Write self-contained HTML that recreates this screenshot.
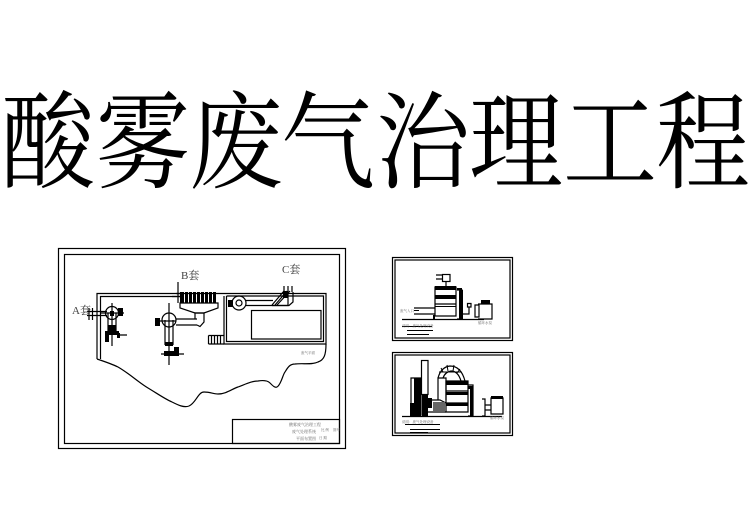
<!DOCTYPE html>
<html><head><meta charset="utf-8"><style>
html,body{margin:0;padding:0;background:#fff;width:749px;height:530px;overflow:hidden}
svg{display:block}
text{font-family:"Liberation Serif","Noto Serif CJK SC",serif;fill:#000}
.t{font-family:"Noto Serif CJK SC",serif;font-size:94px;font-weight:400}
.l{fill:#444;font-size:11px}
.s{fill:#666;font-size:3.5px}
</style></head><body>
<svg width="749" height="530" viewBox="0 0 749 530" xmlns="http://www.w3.org/2000/svg">
<g transform="translate(0,180) scale(1,1.13)" class="t">
<text class="t" x="1" y="0">酸</text><text class="t" x="96" y="0">雾</text><text class="t" x="189" y="0">废</text><text class="t" x="281" y="0">气</text><text class="t" x="376" y="0">治</text><text class="t" x="469" y="0">理</text><text class="t" x="563" y="0">工</text><text class="t" x="656" y="0">程</text>
</g>

<g fill="none" stroke="#000" stroke-width="1.2">
<!-- main frame -->
<rect x="58.5" y="248.5" width="287" height="200"/>
<rect x="64.5" y="254.5" width="275" height="189"/>
<rect x="232.5" y="419.5" width="107" height="24"/>
<!-- outline -->
<path d="M97 359C106 362 112 364 118 367C130 374 138 382 148 388C158 394 165 399 172 402C178 405 184 408 189 406C196 403 198 392 204 392C210 392 214 394 218 394C226 394 232 389 238 387C246 384 252 381 258 381C264 380 268 381 270 383C273 386 275 388 277 387C281 385 283 374 285 372C288 367 290 364 295 364C303 363 312 365 318 362C324 360 326 355 326 344"/>
<path d="M97 359V293.500H180M100.500 359V296.500H180"/>
<path d="M218 293.500H326V344H224V296M226.500 296V341.500H323.500V296H226.500"/>
<rect x="251.500" y="310.500" width="69.500" height="28.500"/>
<!-- stairs -->
<path d="M208.500 335.500H224M208.500 344H224M208.500 335.500V344M211.500 335.500V344M214.500 335.500V344M217.500 335.500V344M220.500 335.500V344"/>
<!-- A set -->
<path d="M87 311.500H107M87 315.500H107M89 308V320M92.500 308V320"/>
<circle cx="112" cy="313" r="6.500"/>
<path d="M112 303V346M101 313H124"/>
<path d="M108 313V333M116 313V333M118 335H127"/>
<!-- B set -->
<circle cx="169" cy="320" r="7"/>
<path d="M169 303V365M155 321H176M161 354H184"/>
<path d="M165 320V345M173 320V345M176 319H197M176 325H197"/>
<path d="M197 325L200 326.500L204 322V313H195V319"/>
<path d="M178 282V291M178 291V303M180 303H218V308L204 313H195L180 308Z"/>
<path d="M176 293.500H218M172 296.500H180"/>
<!-- C set -->
<circle cx="239" cy="303" r="7"/>
<circle cx="239" cy="303" r="3"/>
<path d="M246 300.500H273M246 305.500H288V292"/>
<path d="M272 305L284 291M275 305L287 291M277 305L290 291M293 292V302L289 305.500H272"/>
<path d="M284 286V292M288 286V292M292 286V292"/>
<!-- right frame 1 -->
<rect x="392.500" y="257.500" width="120" height="83"/>
<rect x="395" y="260" width="115" height="78"/>
<path d="M402 319.500H484M414 308H435M414 314H435"/>
<path d="M435 287H456V316H435ZM435 304H456"/>
<rect x="442.500" y="274.500" width="7.500" height="7"/>
<path d="M436 275H443M436 279H443M446 281V286"/>
<path d="M457 290H462V319H457M467.500 303.500H471V307H467.500ZM469 307V314H462"/>
<path d="M475 305H479V317H475ZM478 304H492V319H478"/>
<!-- right frame 2 -->
<rect x="392.500" y="352.500" width="120" height="83"/>
<rect x="395" y="355" width="115" height="78"/>
<path d="M402 416.500H502"/>
<rect x="421.500" y="360.500" width="6.500" height="34"/>
<path d="M411 378H421V415H411Z"/>
<path d="M438 400V378H446V400M438 378Q441 367 450 366Q461 366 465 381" stroke-width="1.200"/>
<path d="M443 378Q445 372 451 371Q458 371 461 381" stroke-width="1.200"/>
<path d="M446 381H468V412H446ZM446 391H468M446 403H468"/>
<path d="M468 385H473V416H468M428 400H440L446 403M428 412H446"/>
<path d="M482 399H485V416H482M491 398H503V414H491ZM485 405H491M485 410H491"/>
</g>
<path d="M439 372L461 372M441 368L443 372M447 365L448 371M454 365L453 371M460 369L457 373" stroke="#000" fill="none" stroke-width="1"/>

<!-- dark fills -->
<g fill="#000">
<!-- A set -->
<rect x="118" y="308" width="5" height="8"/>
<rect x="108" y="325" width="8" height="8"/>
<rect x="105" y="331" width="14" height="4"/><rect x="105" y="331" width="4" height="11"/>
<rect x="110" y="311" width="4" height="5"/><rect x="117" y="333" width="3" height="5"/>
<!-- B set -->
<rect x="155" y="318" width="5" height="8"/><rect x="165" y="342" width="8" height="4"/><rect x="164" y="351" width="15" height="5"/><rect x="174" y="347" width="5" height="8"/>
<rect x="180" y="292" width="4" height="11"/><rect x="185" y="292" width="3" height="11"/><rect x="189" y="292" width="3" height="11"/><rect x="193" y="292" width="3" height="11"/><rect x="197" y="292" width="3" height="11"/><rect x="201" y="292" width="3" height="11"/><rect x="205" y="292" width="3" height="11"/><rect x="209" y="292" width="3" height="11"/><rect x="213" y="292" width="3" height="11"/>
<rect x="228" y="300" width="5" height="7"/>
<rect x="283" y="291" width="5" height="7"/>
<!-- tower 1 -->
<rect x="435" y="286" width="21" height="4"/><rect x="435" y="295" width="21" height="4"/><rect x="435" y="306" width="21" height="1"/><rect x="457" y="288" width="5" height="2"/><rect x="459" y="290" width="4" height="29"/><rect x="433" y="315" width="2" height="4"/><rect x="481" y="300" width="9" height="4"/>
<rect x="414" y="310" width="5" height="1"/>
<rect x="402" y="326" width="30" height="1"/><rect x="407" y="330" width="26" height="1"/><rect x="407" y="334" width="22" height="1"/>
<!-- tower 2 -->
<rect x="414" y="378" width="7" height="38"/><rect x="422" y="394" width="6" height="22"/><rect x="428" y="398" width="4" height="10"/>
<rect x="446" y="381" width="22" height="4"/><rect x="446" y="392" width="22" height="3"/><rect x="446" y="403" width="22" height="3"/><rect x="468" y="386" width="5" height="3"/><rect x="470" y="386" width="3" height="30"/>
<rect x="410" y="403" width="4" height="13"/><rect x="433" y="402" width="12" height="9" fill="#666"/><rect x="491" y="396" width="12" height="3"/>
<rect x="405" y="424" width="35" height="1"/><rect x="410" y="429" width="30" height="1"/><rect x="410" y="432" width="18" height="1"/>
</g>

<!-- labels -->
<text x="72" y="314" class="l">A套</text>
<text x="181" y="279" class="l">B套</text>
<text x="282" y="273" class="l">C套</text>
<text x="301" y="354" class="s">废气平面</text>
<text x="305" y="426" class="s" style="font-size:4px" text-anchor="middle">酸雾废气治理工程</text>
<text x="292" y="433" class="s" style="font-size:4px">废气处理系统</text>
<text x="296" y="440" class="s" style="font-size:4px">平面布置图</text>
<text x="321" y="431" class="s">比 例</text><text x="333" y="431" class="s">图号</text>
<text x="319" y="439" class="s">日 期</text>
<text x="400" y="312" class="s">废气入口</text>
<text x="478" y="324" class="s">循环水泵</text>
<text x="402" y="327" class="s">说明：废气处理设备</text>
<text x="490" y="419" class="s">循环水泵</text>
<text x="402" y="423" class="s">说明：废气处理设备</text>
</svg>
</body></html>
